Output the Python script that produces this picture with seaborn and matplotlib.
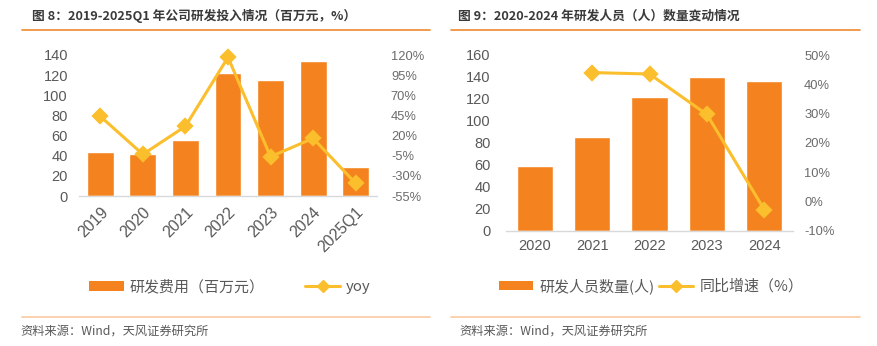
import numpy as np
import pandas as pd
import matplotlib
matplotlib.use("Agg")
import matplotlib.pyplot as plt
import seaborn as sns
from matplotlib.patches import Patch
from matplotlib.lines import Line2D

# ---------------- data ----------------
years_left = ["2019", "2020", "2021", "2022", "2023", "2024", "2025Q1"]
rd_expense = [43.4, 42.0, 56.0, 121.8, 114.9, 134.1, 28.5]
rd_expense_yoy = [43.9, -3.3, 31.5, 117.1, -6.2, 16.6, -39.3]

years_right = ["2020", "2021", "2022", "2023", "2024"]
rd_staff = [59, 85, 122, 140, 136]
staff_yoy_years = ["2021", "2022", "2023", "2024"]
staff_yoy = [44.0, 43.5, 29.7, -2.8]

left_yticks = [0, 20, 40, 60, 80, 100, 120, 140]
left_y2ticks = [-55, -30, -5, 20, 45, 70, 95, 120]
right_yticks = [0, 20, 40, 60, 80, 100, 120, 140, 160]
right_y2ticks = [-10, 0, 10, 20, 30, 40, 50]

title_left = "图 8：2019-2025Q1 年公司研发投入情况（百万元，%）"
title_right = "图 9：2020-2024 年研发人员（人）数量变动情况"
legend_left = ["研发费用（百万元）", "yoy"]
legend_right = ["研发人员数量(人)", "同比增速（%）"]
source_text = "资料来源：Wind，天风证券研究所"

# ---------------- style ----------------
sns.set_theme(style="white")
plt.rcParams["font.family"] = ["Liberation Sans", "Noto Sans CJK SC", "DejaVu Sans"]
cjk = ["Noto Sans CJK SC", "DejaVu Sans"]

BAR = "#F4831F"
LINE = "#FBBE2C"
TICK = "#595959"
TICK2 = "#6B6B6B"
TITLE = "#3A3A3A"

W, H = 877, 346
fig = plt.figure(figsize=(W / 100, H / 100), dpi=100)


def fx(px):
    return px / W


def fy(py):
    return 1 - py / H


def axes_px(x0, x1, ytop, ybot):
    return fig.add_axes([fx(x0), fy(ybot), fx(x1) - fx(x0), fy(ytop) - fy(ybot)])


def style_axes(ax, ax2):
    for a in (ax, ax2):
        for s in ("top", "right", "left", "bottom"):
            a.spines[s].set_visible(False)
        a.tick_params(length=0, colors=TICK, labelsize=10.5)
        a.set_xlabel("")
        a.set_ylabel("")
        a.grid(False)
    ax2.tick_params(axis="y", labelsize=9.3, colors=TICK2)
    ax.spines["bottom"].set_visible(True)
    ax.spines["bottom"].set_color("#D9D9D9")
    ax.spines["bottom"].set_linewidth(1.0)
    for ln in ax2.lines:
        ln.set_clip_on(False)
    for c in ax2.collections:
        c.set_clip_on(False)


# ---------------- left chart ----------------
axL = axes_px(79, 377, 55, 196)
dfL = pd.DataFrame({"year": years_left, "exp": rd_expense, "yoy": rd_expense_yoy})
sns.barplot(data=dfL, x="year", y="exp", order=years_left, color=BAR,
            saturation=1, width=0.63, ax=axL)
axL.set_ylim(0, 140)
axL.set_yticks(left_yticks)
axL.set_xlim(-0.5, len(years_left) - 0.5)
axL2 = axL.twinx()
sns.pointplot(data=dfL, x="year", y="yoy", order=years_left, color=LINE,
              markers="D", markersize=7, linewidth=2.2, errorbar=None, ax=axL2)
axL2.set_ylim(-55, 120)
axL2.set_yticks(left_y2ticks)
axL2.set_yticklabels([f"{v}%" for v in left_y2ticks])
axL2.set_xlim(-0.5, len(years_left) - 0.5)
style_axes(axL, axL2)
axL.tick_params(axis="y", pad=8)
axL2.tick_params(axis="y", pad=10)
axL.set_xticks(range(len(years_left)))
axL.set_xticklabels(years_left, rotation=45, ha="right", rotation_mode="anchor",
                    fontsize=11.5)
axL.tick_params(axis="x", pad=6)

# ---------------- right chart ----------------
axR = axes_px(506, 793, 55, 230.7)
dfR = pd.DataFrame({"year": years_right, "staff": rd_staff})
dfR2 = pd.DataFrame({"year": staff_yoy_years, "yoy": staff_yoy})
sns.barplot(data=dfR, x="year", y="staff", order=years_right, color=BAR,
            saturation=1, width=0.63, ax=axR)
axR.set_ylim(0, 160)
axR.set_yticks(right_yticks)
axR.set_xlim(-0.5, len(years_right) - 0.5)
axR2 = axR.twinx()
sns.pointplot(data=dfR2, x="year", y="yoy", order=years_right, color=LINE,
              markers="D", markersize=7, linewidth=2.2, errorbar=None, ax=axR2)
axR2.set_ylim(-10, 50)
axR2.set_yticks(right_y2ticks)
axR2.set_yticklabels([f"{v}%" for v in right_y2ticks])
axR2.set_xlim(-0.5, len(years_right) - 0.5)
style_axes(axR, axR2)
axR.tick_params(axis="y", pad=11)
axR2.tick_params(axis="y", pad=8)
axR.tick_params(axis="x", pad=6)

# ---------------- titles, rules, legends, sources ----------------
fig.text(fx(32), fy(16), title_left, family=cjk, fontsize=9.2, fontweight="bold",
         color=TITLE, va="center", ha="left")
fig.text(fx(458), fy(16), title_right, family=cjk, fontsize=9.2, fontweight="bold",
         color=TITLE, va="center", ha="left")

for (x0, x1) in [(22, 430), (451, 860)]:
    fig.add_artist(Line2D([fx(x0), fx(x1)], [fy(29.5), fy(29.5)], color="#EE8A30", lw=1.2))
    fig.add_artist(Line2D([fx(x0), fx(x1)], [fy(316.5), fy(316.5)], color="#FAC9A0", lw=1.2))

fig.text(fx(20), fy(331), source_text, family=cjk, fontsize=8.8, color=TICK,
         va="center", ha="left")
fig.text(fx(459), fy(331), source_text, family=cjk, fontsize=8.8, color=TICK,
         va="center", ha="left")

bar_handle = Patch(facecolor=BAR, edgecolor="none")
line_handle = Line2D([], [], color=LINE, lw=2.2, marker="D", markersize=6)

legL = fig.legend([bar_handle, line_handle], legend_left, loc="center",
                  bbox_to_anchor=(fx(230), fy(287)), ncol=2, frameon=False,
                  prop={"family": cjk, "size": 10.8}, labelcolor=TICK,
                  handlelength=2.3, handleheight=0.6, handletextpad=0.4,
                  columnspacing=2.7)
legR = fig.legend([bar_handle, line_handle], legend_right, loc="center",
                  bbox_to_anchor=(fx(651), fy(286)), ncol=2, frameon=False,
                  prop={"family": cjk, "size": 10.8}, labelcolor=TICK,
                  handlelength=2.3, handleheight=0.6, handletextpad=0.4,
                  columnspacing=0.3)

fig.savefig("out.png", dpi=100, facecolor="white")
